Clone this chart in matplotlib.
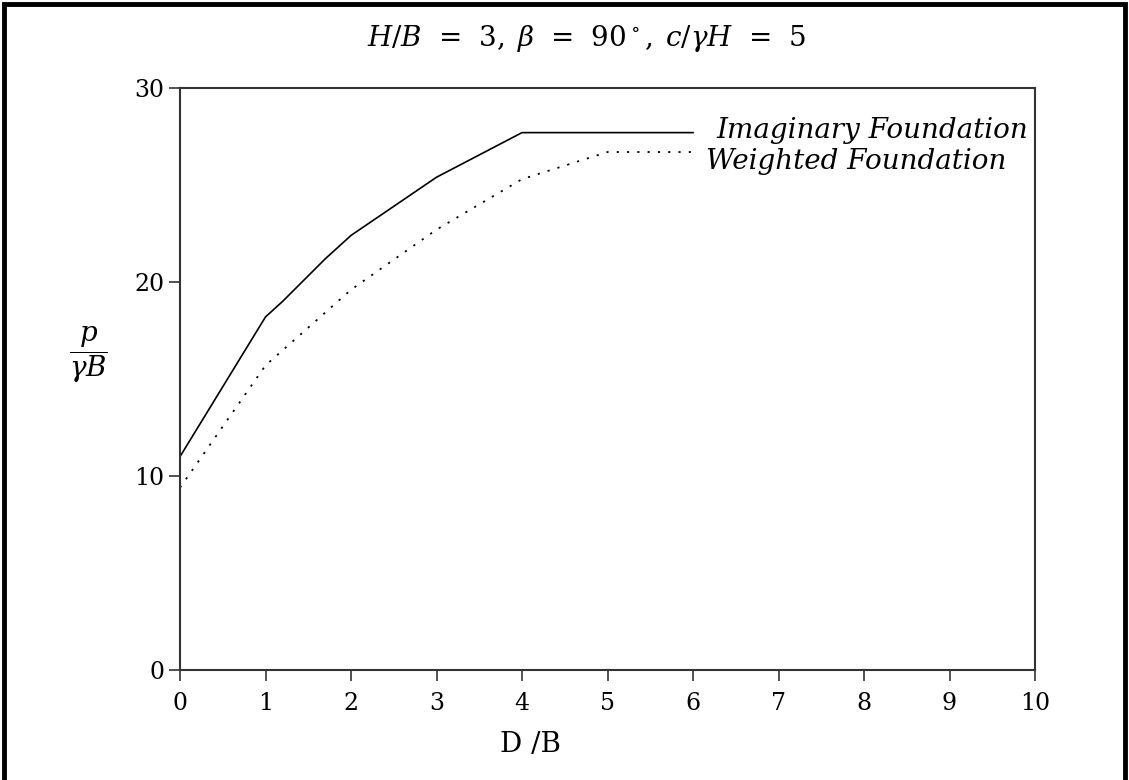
import numpy as np
import matplotlib
matplotlib.use("Agg")
import matplotlib.pyplot as plt
from matplotlib.patches import Rectangle

# data
d_b = [0, 1, 1.2, 1.7, 2, 3, 4, 5, 6]
imaginary = [11.0, 18.2, 19.0, 21.2, 22.4, 25.4, 27.7, 27.7, 27.7]
d_b_w = [0, 1, 2, 3, 4, 5, 6]
weighted = [9.4, 15.7, 19.6, 22.7, 25.3, 26.7, 26.7]
x_ticks = list(range(0, 11))
y_ticks = [0, 10, 20, 30]

plt.rcParams['font.family'] = ['DejaVu Serif']
plt.rcParams['mathtext.fontset'] = 'dejavuserif'

fig = plt.figure(figsize=(11.29, 7.80), dpi=100)
ax = fig.add_axes([180/1129, 1-670/780, (1035-180)/1129, (670-88)/780])

ax.plot(d_b, imaginary, color='black', lw=1.2, ls='-')
ax.plot(d_b_w, weighted, color='black', lw=1.3, ls=(0, (1.2, 4.5)))

ax.set_xlim(0, 10)
ax.set_ylim(0, 30)
ax.set_xticks(x_ticks)
ax.set_yticks(y_ticks)
ax.tick_params(direction='out', length=8, width=1.2, labelsize=17, color='#333333', pad=3)
ax.tick_params(axis='x', pad=8)
for s in ax.spines.values():
    s.set_linewidth(1.5)
    s.set_color('#333333')

# curve labels
ax.text(6.27, imaginary[-1] + 0.1, 'Imaginary Foundation', style='italic', fontsize=20,
        va='center', ha='left')
ax.text(6.15, weighted[-1] - 0.5, 'Weighted Foundation', style='italic', fontsize=20,
        va='center', ha='left')

fig.text(586/1129, 1-38/780,
         r'$H/B\;\,=\;\,3,\;\beta\;\,=\;\,90^\circ,\;c/\gamma H\;\,=\;\,5$',
         fontsize=20, ha='center', va='center')
fig.text(531/1129, 1-745/780, 'D /B', fontsize=20, ha='center', va='center')
fig.text(88/1129, 1-355/780, r'$\dfrac{p}{\gamma B}$', fontsize=20, ha='center', va='center')

# figure border
fig.patches.append(Rectangle((4/1129, -0.05), 1-8/1129, 1.05 - 4/780,
                             transform=fig.transFigure, fill=False,
                             edgecolor='black', lw=3.5))

fig.savefig('out.png', dpi=100)
